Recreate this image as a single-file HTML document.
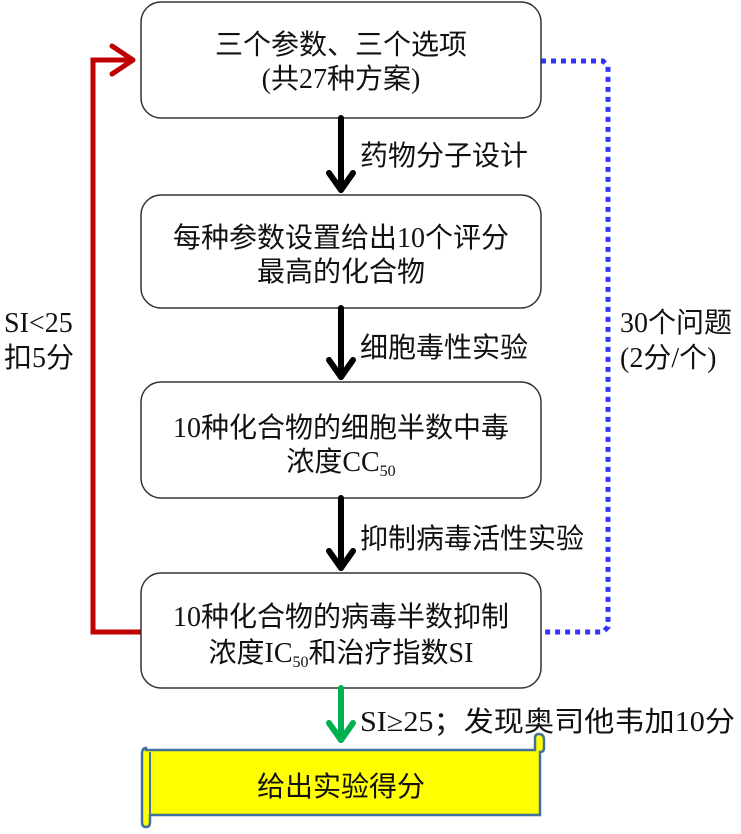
<!DOCTYPE html>
<html><head><meta charset="utf-8"><style>
html,body{margin:0;padding:0;background:#fff;}
svg text{font-family:"Liberation Serif","Noto Sans CJK SC",serif;fill:#111;}
</style></head><body>
<svg width="741" height="829" viewBox="0 0 741 829" xmlns="http://www.w3.org/2000/svg">
<!-- red loop -->
<polyline points="141,632 93,632 93,60 133,60" fill="none" stroke="#c00000" stroke-width="5"/>
<polyline points="112,46 133,60 112,74" fill="none" stroke="#c00000" stroke-width="5" stroke-linecap="round" stroke-linejoin="round"/>
<!-- blue dotted -->
<polyline points="541,61 603,61 608,66 608,627 603,632 541,632" fill="none" stroke="#3333ff" stroke-width="5" stroke-dasharray="5,5"/>
<!-- boxes -->
<rect x="141" y="2" width="400" height="116" rx="20" fill="#fff" stroke="#333" stroke-width="1.5"/>
<rect x="141" y="195" width="400" height="113" rx="20" fill="#fff" stroke="#333" stroke-width="1.5"/>
<rect x="141" y="382" width="400" height="116" rx="20" fill="#fff" stroke="#333" stroke-width="1.5"/>
<rect x="141" y="573" width="400" height="115" rx="20" fill="#fff" stroke="#333" stroke-width="1.5"/>
<!-- black arrows -->
<g stroke="#000" stroke-width="6" fill="none" stroke-linecap="round" stroke-linejoin="round">
<line x1="341" y1="118" x2="341" y2="190"/><polyline points="329,173 341,190 353,173"/>
<line x1="341" y1="308" x2="341" y2="377"/><polyline points="329,360 341,377 353,360"/>
<line x1="341" y1="498" x2="341" y2="568"/><polyline points="329,551 341,568 353,551"/>
</g>
<g stroke="#00b050" stroke-width="6" fill="none" stroke-linecap="round" stroke-linejoin="round">
<line x1="341" y1="688" x2="341" y2="740"/><polyline points="329,723 341,740 353,723"/>
</g>
<!-- scroll -->
<path d="M146,750 L535,750 L535,738 Q535,734 539,734 Q544,734 544,740 L544,748 Q544,752 540,752 L540,815 L150,815 L150,822 Q150,827 146,827 Q142,827 142,822 L142,754 Q142,748 146,748 Z" fill="#ffff00" stroke="#41719c" stroke-width="2.5"/>
<line x1="150" y1="752" x2="150" y2="815" stroke="#41719c" stroke-width="2"/>
<!-- text -->
<g font-size="28" text-anchor="middle">
<text x="341" y="54">三个参数、三个选项</text>
<text x="341" y="88">(共27种方案)</text>
<text x="341" y="247">每种参数设置给出10个评分</text>
<text x="341" y="281">最高的化合物</text>
<text x="341" y="437">10种化合物的细胞半数中毒</text>
<text x="341" y="471">浓度CC<tspan font-size="16" dy="5">50</tspan></text>
<text x="341" y="626">10种化合物的病毒半数抑制</text>
<text x="341" y="662">浓度IC<tspan font-size="16" dy="5">50</tspan><tspan dy="-5">和治疗指数SI</tspan></text>
<text x="341" y="796">给出实验得分</text>
</g>
<g font-size="28">
<text x="360" y="165">药物分子设计</text>
<text x="360" y="357">细胞毒性实验</text>
<text x="360" y="548">抑制病毒活性实验</text>
<text x="360" y="731" textLength="375" lengthAdjust="spacingAndGlyphs">SI≥25；发现奥司他韦加10分</text>
<text x="4" y="332">SI&lt;25</text>
<text x="4" y="367">扣5分</text>
<text x="620" y="332">30个问题</text>
<text x="620" y="367">(2分/个)</text>
</g>
</svg>
</body></html>
